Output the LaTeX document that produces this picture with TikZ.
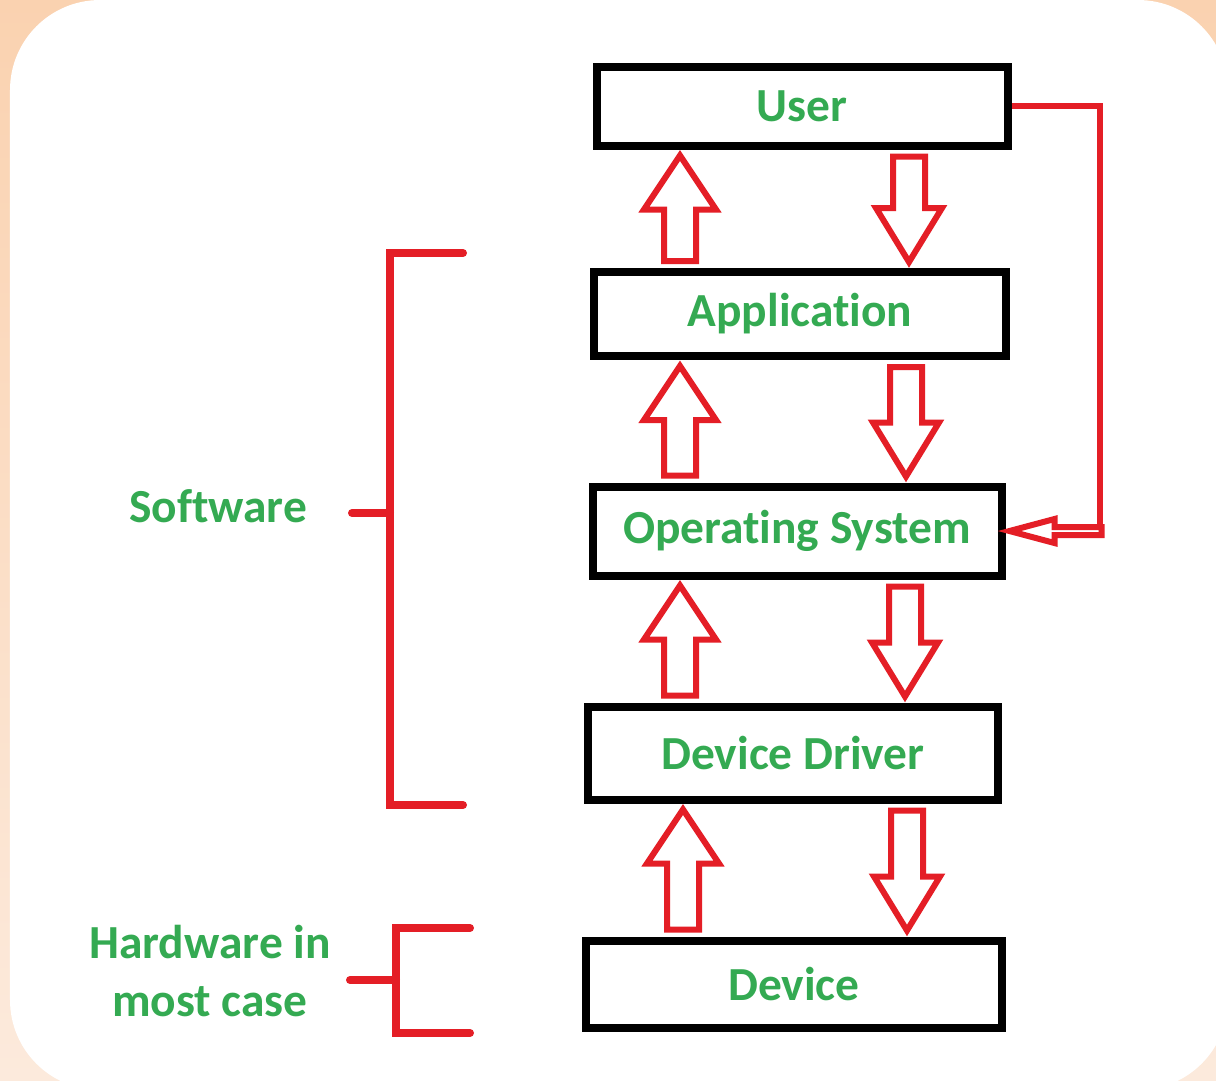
\documentclass[tikz,border=0pt]{standalone}
\usepackage{fontspec}
\setmainfont{Carlito}[Ligatures=NoCommon]
\usetikzlibrary{calc}
\definecolor{osgreen}{RGB}{52,170,82}
\definecolor{osred}{RGB}{228,30,38}
\definecolor{peach}{RGB}{250,210,176}
\definecolor{peachlight}{RGB}{252,234,220}

% hollow block arrows between two boxes: x, from node, to node
\newcommand{\blkup}[3]{%
	\draw[blk] let \p1=(#2.north -| #1,0), \p2=(#3.south -| #1,0) in
	({\x1-1.6mm},{\y1+0.7mm}) -- ({\x1-1.6mm},{\y2-6mm}) -- ({\x1-3.6mm},{\y2-6mm}) -- (\x1,{\y2-0.6mm})
	-- ({\x1+3.6mm},{\y2-6mm}) -- ({\x1+1.6mm},{\y2-6mm}) -- ({\x1+1.6mm},{\y1+0.7mm}) -- cycle;}
\newcommand{\blkdown}[3]{%
	\draw[blk] let \p1=(#2.south -| #1,0), \p2=(#3.north -| #1,0) in
	({\x1-1.6mm},{\y1-0.7mm}) -- ({\x1-1.6mm},{\y2+6mm}) -- ({\x1-3.3mm},{\y2+6mm}) -- (\x1,{\y2+0.6mm})
	-- ({\x1+3.3mm},{\y2+6mm}) -- ({\x1+1.6mm},{\y2+6mm}) -- ({\x1+1.6mm},{\y1-0.7mm}) -- cycle;}

\begin{document}
\begin{tikzpicture}
	[x=0.1mm,y=-0.1mm,
	layerbox/.style={draw,line width=0.8mm,fill=white,text=osgreen,
		font=\fontsize{13.5}{16}\selectfont\bfseries,minimum width=41mm,minimum height=8.6mm},
	lbl/.style={text=osgreen,align=center,font=\fontsize{13.5}{16.5}\selectfont\bfseries},
	blk/.style={draw=osred,line width=0.6mm,line join=miter},
	brk/.style={draw=osred,line width=0.8mm,line cap=round},
	fb/.style={draw=osred,line width=0.6mm}]
	
	\useasboundingbox (0,0) rectangle (1216,1080);
	\shade[top color=peach,bottom color=peachlight] (0,0) rectangle (1216,1080);
	\begin{scope}
		\clip (0,0) rectangle (1216,1080);
		\fill[white,rounded corners=9mm] (10,0) rectangle (1228,1090);
	\end{scope}
	
	\node[layerbox,minimum width=41.1mm,minimum height=7.9mm] (user) at (802,106) {User};
	\node[layerbox,minimum width=41.2mm,minimum height=8.4mm] (app) at (800,314) {Application};
	\node[layerbox,minimum width=40.9mm,minimum height=8.9mm] (os) at (797,531) {Operating System};
	\node[layerbox,minimum width=41.0mm,minimum height=9.3mm] (drv) at (793,753) {Device Driver};
	\node[layerbox,minimum width=41.6mm,minimum height=8.7mm] (dev) at (794,984) {Device};
	
	\blkup{680}{app}{user}
	\blkup{680}{os}{app}
	\blkup{680}{drv}{os}
	\blkup{683}{dev}{drv}
	\blkdown{909}{user}{app}
	\blkdown{906}{app}{os}
	\blkdown{905}{os}{drv}
	\blkdown{907}{drv}{dev}
	
	% feedback from the user straight to the OS
	\draw[fb] (user.east) -| (1100,527);
	\draw[blk] ([xshift=0.4mm]os.east) -- ++(45,-12) -- ++(0,8) -- ++(47,0)
	-- ++(0,8) -- ++(-47,0) -- ++(0,8) -- cycle;
	
	\node[lbl] (sw) at (218,506) {Software};
	\draw[brk] (463,253) -- (390,253) -- (390,805) -- (463,805);
	\draw[brk] (352,513) -- (390,513);
	
	\node[lbl] (hw) at (210,971) {Hardware in\\most case};
	\draw[brk] (470,928) -- (396,928) -- (396,1033) -- (470,1033);
	\draw[brk] (350,980) -- (396,980);
	
\end{tikzpicture}
\end{document}
